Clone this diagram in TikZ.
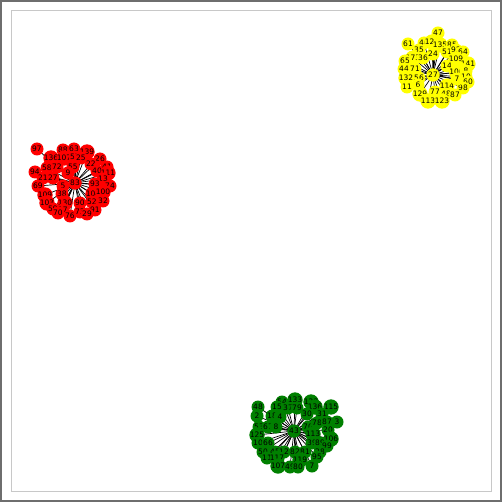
\documentclass[tikz,border=0pt]{standalone}
\usepackage{xcolor}
\usepackage{fontspec}
\setmainfont{DejaVu Sans}
\usepackage{tikz}
\usetikzlibrary{positioning, backgrounds}
\definecolor{framegray}{RGB}{110, 110, 110}
\definecolor{innergray}{RGB}{200, 200, 200}
\definecolor{nxred}{RGB}{255, 0, 0}
\definecolor{nxyellow}{RGB}{255, 255, 0}
\definecolor{nxgreen}{RGB}{0, 128, 0}
\tikzstyle{vert} = [circle, inner sep=0pt, minimum size=13pt, font=\fontsize{7.5}{7.5}\selectfont]
\tikzstyle{link} = [black, line width=0.7pt]
\begin{document}
\begin{tikzpicture}[x=1pt, y=-1pt]
    \useasboundingbox (0,0) rectangle (502,502);
    % Frames
    \draw[framegray, line width=1.5pt] (1,1) rectangle (501,501);
    \draw[innergray, line width=1pt] (11,11) rectangle (491,491);

    % Red cluster
    \node[vert, fill=nxred] (r83) at (75,183) {83};
    \foreach \lab/\px/\py in {97/37/149, 88/63/150, 63/74/149, 139/87/152, 136/51/158, 107/64/158, 57/75/157, 25/81/158, 26/100/159, 58/47/168, 72/57/167, 55/73/167, 22/91/164, 41/107/167, 94/35/172, 40/97/171, 111/108/173, 21/43/178, 27/53/178, 9/68/173, 13/103/179, 5/63/186, 93/95/184, 74/110/186, 69/38/186, 104/93/194, 100/103/192, 109/45/195, 38/62/194, 32/103/201, 103/47/203, 130/65/203, 90/80/203, 52/92/202, 59/53/209, 17/63/210, 91/95/210, 70/58/213, 76/70/216, 73/80/212, 29/87/214} {
        \node[vert, fill=nxred] (r\lab) at (\px,\py) {\lab};
        \begin{scope}[on background layer]
            \draw[link] (r83.center) -- (r\lab.center);
        \end{scope}
    }
    \node[vert, fill=nxred] at (r83) {83};

    % Yellow cluster
    \node[vert, fill=nxyellow] (y27) at (433,75) {27};
    \foreach \lab/\px/\py in {47/438/33, 61/408/44, 46/424/43, 124/432/42, 135/440/45, 85/452/45, 35/419/50, 51/447/52, 92/456/50, 64/463/52, 173/413/58, 36/423/58, 24/433/54, 109/456/59, 65/405/61, 141/468/64, 44/404/69, 71/415/69, 14/447/66, 1000/459/72, 8/466/71, 132/406/78, 56/419/78, 10/466/77, 60/468/82, 11/407/87, 6/418/85, 114/447/86, 98/463/88, 7/457/79, 129/420/94, 77/435/92, 48/446/94, 87/455/95, 113/428/101, 123/442/101} {
        \node[vert, fill=nxyellow] (y\lab) at (\px,\py) {\lab};
        \begin{scope}[on background layer]
            \draw[link] (y27.center) -- (y\lab.center);
        \end{scope}
    }
    \node[vert, fill=nxyellow] at (y27) {27};

    % Green cluster
    \node[vert, fill=nxgreen] (g43) at (294,431) {43};
    \foreach \lab/\px/\py in {54/282/402, 133/295/400, 128/311/402, 48/258/407, 15/277/407, 37/288/408, 79/297/408, 136/315/407, 115/331/407, 2/257/416, 18/272/416, 4/280/417, 30/307/414, 31/322/414, 53/259/427, 67/268/427, 8/276/427, 70/308/427, 78/317/423, 87/327/422, 3/337/422, 20/328/430, 125/257/435, 113/313/434, 106/331/439, 10/258/443, 66/268/443, 39/312/443, 89/320/443, 99/327/446, 50/263/452, 45/275/452, 12/284/452, 82/295/452, 81/305/452, 28/320/452, 11/267/458, 117/277/458, 119/300/460, 95/317/457, 107/278/466, 49/290/467, 80/298/467, 7/312/466} {
        \node[vert, fill=nxgreen] (g\lab) at (\px,\py) {\lab};
        \begin{scope}[on background layer]
            \draw[link] (g43.center) -- (g\lab.center);
        \end{scope}
    }
    \node[vert, fill=nxgreen] at (g43) {43};
\end{tikzpicture}
\end{document}
